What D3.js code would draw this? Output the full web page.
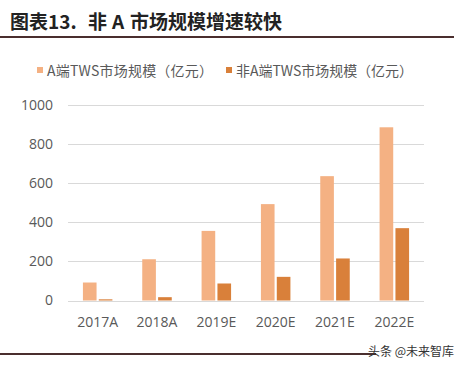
<!DOCTYPE html>
<html><head><meta charset="utf-8">
<script src="https://cdn.jsdelivr.net/npm/d3@7/dist/d3.min.js"></script>
<style>body{margin:0;background:#fff}svg{display:block}</style>
</head><body>
<svg id="c" width="462" height="369"></svg>
<script>
const categories = ["2017A","2018A","2019E","2020E","2021E","2022E"];
const seriesNames = ["A端TWS市场规模（亿元）","非A端TWS市场规模（亿元）"];
const seriesA = [92, 211, 356, 493, 636, 886];
const seriesNonA = [6, 17, 87, 121, 215, 370];
const yTicks = [0, 200, 400, 600, 800, 1000];
const titleParts = ["图表13.", "非", "A", "市场规模增速较快"];
const watermark = "头条 @未来智库";

(function(){
const svg = d3.select("#c");
const colors = ["#F4B183", "#D9803A"];
const pl = 68, pr = 424, pt = 105, pb = 300.5;

const tx = [10, 88, 112, 130];
titleParts.forEach((t, i) => {
  svg.append("text").attr("x", tx[i]).attr("y", 29)
    .attr("font-family", "'Noto Sans CJK SC', sans-serif").attr("font-weight", "bold")
    .attr("font-size", 19).attr("fill", "#222").text(t);
});
svg.append("line").attr("x1", 0).attr("x2", 454).attr("y1", 37).attr("y2", 37)
  .attr("stroke", "#4a2e2e").attr("stroke-width", 2);

const x0 = d3.scaleBand().domain(categories).range([pl, pr]);
const x1 = d3.scaleBand().domain([0,1]).range([0, 29.5]).paddingInner(0.14);
const y = d3.scaleLinear().domain([0, 1000]).range([pb, pt]);

svg.append("g").selectAll("line").data(yTicks).join("line")
  .attr("x1", pl).attr("x2", pr)
  .attr("y1", d => Math.round(y(d)) + 0.5).attr("y2", d => Math.round(y(d)) + 0.5)
  .attr("stroke", "#d9d9d9").attr("stroke-width", 1);

const yAxis = d3.axisLeft(y).tickValues(yTicks).tickFormat(d3.format("d")).tickSize(0).tickPadding(0);
const gy = svg.append("g").attr("transform", `translate(53,0)`).call(yAxis);
gy.select(".domain").remove();
gy.selectAll("text").attr("font-family", "'Open Sans', 'Noto Sans', sans-serif")
  .attr("font-size", 14).attr("fill", "#595959");

const data = [seriesA, seriesNonA];
const g = svg.append("g");
categories.forEach((c, i) => {
  const cx = x0(c) + x0.bandwidth() / 2 - 14.75;
  data.forEach((s, k) => {
    g.append("rect").attr("x", cx + x1(k)).attr("width", x1.bandwidth())
      .attr("y", y(s[i])).attr("height", y(0) - y(s[i])).attr("fill", colors[k]);
  });
});

const xAxis = d3.axisBottom(x0).tickSize(0).tickPadding(0);
const gx = svg.append("g").attr("transform", `translate(0,${pb + 17})`).call(xAxis);
gx.select(".domain").remove();
gx.selectAll("text").attr("font-family", "'Open Sans', 'Noto Sans', sans-serif")
  .attr("font-size", 14).attr("fill", "#595959");

const leg = [{x: 37, tx: 47, w: 166}, {x: 226, tx: 236, w: 177}];
seriesNames.forEach((n, k) => {
  svg.append("rect").attr("x", leg[k].x).attr("y", 67).attr("width", 6).attr("height", 6).attr("fill", colors[k]);
  svg.append("text").attr("x", leg[k].tx).attr("y", 75.5)
    .attr("font-family", "'Noto Sans CJK SC', serif").attr("font-size", 14)
    .attr("textLength", leg[k].w).attr("lengthAdjust", "spacing")
    .attr("fill", "#595959").text(n);
});

svg.append("line").attr("x1", 0).attr("x2", 376).attr("y1", 354).attr("y2", 354)
  .attr("stroke", "#4a2e2e").attr("stroke-width", 2);
svg.append("text").attr("x", 368).attr("y", 356).attr("font-family", "'Noto Sans CJK SC', sans-serif")
  .attr("font-size", 12).attr("fill", "#333").text(watermark);
})();
</script>
</body></html>
